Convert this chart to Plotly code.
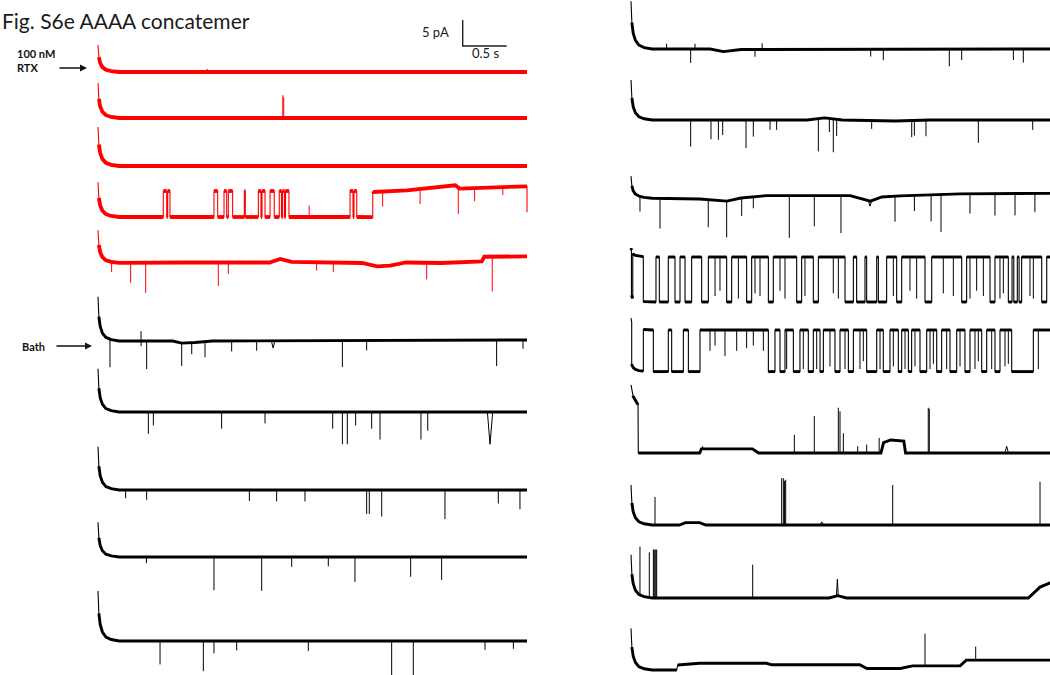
import numpy as np
import plotly.graph_objects as go

# ---------------- values ----------------
SCALE_TIME_S = 0.5          # horizontal scale bar
SCALE_CURRENT_PA = 5.0      # vertical scale bar
SWEEP_DURATION_S = 4.875

# capacitive transient at sweep onset: time (s) and fraction of peak
TRANSIENT_T = [0.0, 0.01, 0.025, 0.05, 0.09, 0.15, 0.24]
TRANSIENT_F = [1.0, 0.55, 0.33, 0.18, 0.08, 0.03, 0.0]

# ---- left column, 100 nM RTX (red) ----
L1_PEAK = 5.2
L1_DRIFT = [(0, 0), (4.875, 0)]
L1_SPIKES = [(1.24, 0.5, 0.03)]

L2_PEAK = 6.7
L2_DRIFT = [(0, 0), (4.875, 0)]
L2_SPIKES = [(2.10, 4.4), (2.11, 4.0)]

L3_PEAK = 7.5
L3_DRIFT = [(0, 0), (4.875, 0)]
L3_SPIKES = []

L4_PEAK = 6.7
L4_UNIT = 5.0
L4_DRIFT = [(0, 0), (3.12, 0), (3.13, -0.19), (3.51, 0.13), (3.89, 0.77), (4.06, 1.1),
            (4.11, 0.46), (4.46, 0.65), (4.875, 0.9)]
L4_OPEN = [(0.742, 0.781), (0.792, 0.818), (1.318, 1.360), (1.432, 1.462), (1.481, 1.530),
           (1.663, 1.674), (1.822, 1.852), (1.864, 1.898), (1.955, 2.003), (2.060, 2.085),
           (2.097, 2.119), (2.131, 2.170), (2.864, 2.898), (2.909, 2.940), (3.122, 4.875)]
L4_SPIKES = [(2.40, 2.2), (3.235, -2.9), (3.66, -2.9), (4.094, -5.1), (4.28, -2.5), (4.6, -1.5)]

L5_PEAK = 6.3
L5_DRIFT = [(0, 0), (1.0, 0.1), (1.95, 0.1), (2.07, 0.77), (2.2, 0.2), (3.0, 0.0), (3.17, -0.64),
            (3.32, -0.5), (3.5, 0.1), (3.9, 0.0), (4.36, 0.3), (4.39, 1.2), (4.875, 1.28)]
L5_SPIKES = [(0.155, -1.9), (0.371, -3.85), (0.542, -5.8), (1.367, -4.5), (1.481, -2.2),
             (2.485, -1.6), (2.674, -1.8), (3.735, -3.2), (4.48, -6.7)]

# ---- left column, bath (black) ----
L6_PEAK = 8.5
L6_DRIFT = [(0, 0), (0.85, 0), (0.95, -0.4), (1.1, -0.3), (1.3, 0), (4.875, 0.2)]
L6_SPIKES = [(0.136, -5.4), (0.489, 1.9), (0.49, -1.0), (0.553, -5.4), (0.951, -4.4),
             (1.065, -2.2), (1.216, -3.0), (1.519, -2.0), (1.803, -1.9), (1.99, -1.4, 0.02),
             (2.777, -5.1), (3.053, -1.9), (4.53, -5.0), (4.83, -1.7)]

L7_PEAK = 8.3
L7_DRIFT = [(0, 0), (4.875, 0)]
L7_SPIKES = [(0.572, -4.2), (0.629, -2.6), (1.405, -3.2), (1.898, -2.2), (2.667, -3.2),
             (2.777, -6.2), (2.833, -6.2), (2.928, -2.6), (3.11, -3.2), (3.205, -5.3),
             (3.67, -5.3), (3.747, -3.6), (4.455, -6.2, 0.03)]

L8_PEAK = 8.3
L8_DRIFT = [(0, 0), (4.875, 0)]
L8_SPIKES = [(0.314, -1.6), (0.553, -1.9), (1.72, -2.1), (2.03, -2.2), (2.352, -2.2),
             (3.053, -4.6), (3.083, -4.6), (3.224, -5.1), (3.943, -5.6), (4.549, -2.6),
             (4.795, -3.7)]

L9_PEAK = 6.7
L9_DRIFT = [(0, 0), (4.875, 0)]
L9_SPIKES = [(0.55, -1.2), (1.318, -6.4), (1.86, -6.5), (2.201, -1.9), (2.617, -1.8),
             (2.92, -4.8), (3.553, -3.8), (3.905, -4.4)]

L10_PEAK = 9.6
L10_DRIFT = [(0, 0), (4.875, 0)]
L10_SPIKES = [(0.705, -4.5), (1.197, -5.8), (1.318, -2.4), (1.576, -1.8), (2.39, -1.9),
              (3.337, -6.6), (3.583, -6.6), (4.398, -1.7), (4.72, -1.5)]

# ---- right column (black) ----
R1_PEAK = 9.2
R1_DRIFT = [(0, 0), (0.9, 0), (1.05, -0.5), (1.25, -0.1), (4.875, 0)]
R1_SPIKES = [(0.405, 1.0), (0.678, -2.7), (0.727, 1.0), (1.409, -1.4), (1.49, 1.2),
             (2.724, -1.4), (2.867, -2.1), (3.617, -3.3), (3.758, -2.1), (4.345, -2.1),
             (4.458, -2.6)]

R2_PEAK = 7.7
R2_DRIFT = [(0, 0), (2.0, 0), (2.2, 0.4), (2.4, 0), (3.0, -0.2), (3.4, 0), (4.875, 0)]
R2_SPIKES = [(0.678, -5.1), (0.909, -3.7), (0.993, -3.8), (1.042, -2.9), (1.307, -5.4),
             (1.39, -3.2), (1.58, -1.9), (1.655, -1.9), (2.129, -6.3), (2.254, -2.6),
             (2.299, -6.4), (2.337, -3.2), (2.735, -1.6), (3.19, -3.2), (3.22, -2.9),
             (3.352, -3.1), (3.947, -4.4), (4.565, -1.9)]

R3_PEAK = 4.2
R3_DRIFT = [(0, 0), (0.1, 0), (0.78, -0.2), (1.09, -0.6), (1.25, 0), (1.54, 0.45), (2.49, 0.45),
            (2.72, -0.6), (2.85, 0.2), (3.06, 0.4), (3.74, 0.8), (4.875, 0.9)]
R3_SPIKES = [(0.102, -2.9), (0.33, -5.8), (0.878, -5.3), (1.087, -7.0), (1.258, -3.5),
             (1.39, -2.2), (1.799, -8.1), (2.083, -5.9), (2.386, -7.2), (2.716, -1.0, 0.02),
             (3.0, -4.9), (3.22, -3.0), (3.41, -5.1), (3.523, -7.2), (3.852, -3.8),
             (4.136, -4.2), (4.364, -4.2), (4.59, -3.6)]

R4_PEAK = 1.7
R4_UNIT = -8.65
R4_DRIFT = [(0, 0), (4.875, 0)]
R4_OPEN = [(0.005, 0.02), (0.140, 0.284), (0.322, 0.424), (0.5, 0.557), (0.614, 0.689),
           (0.803, 0.879), (1.087, 1.144), (1.314, 1.371), (1.561, 1.617), (1.883, 1.939),
           (2.072, 2.129), (2.432, 2.527), (2.564, 2.659), (2.678, 2.792), (2.811, 2.905),
           (3.019, 3.076), (3.341, 3.417), (3.758, 3.814), (4.08, 4.136), (4.288, 4.33),
           (4.35, 4.39), (4.41, 4.439), (4.667, 4.724)]
R4_SPIKES = [(0.955, -7.5), (1.011, -6.5), (1.22, -8.0), (1.409, -7.0), (1.466, -7.5),
             (1.693, -6.5), (1.75, -8.0), (1.977, -7.5), (2.299, -7.0), (2.356, -8.0),
             (2.981, -7.5), (3.17, -6.5), (3.246, -8.0), (3.549, -7.0), (3.663, -7.5),
             (3.852, -8.0), (3.928, -6.5), (4.004, -7.5), (4.193, -8.0), (4.231, -7.0),
             (4.534, -7.5), (4.572, -8.0)]

R5_PEAK = 2.3
R5_UNIT = -8.0
R5_DRIFT = [(0, 0), (4.875, 0)]
R5_OPEN = [(0.008, 0.140), (0.254, 0.424), (0.462, 0.595), (0.652, 0.784), (1.561, 1.636),
           (1.693, 1.75), (1.845, 1.92), (2.015, 2.072), (2.148, 2.186), (2.318, 2.375),
           (2.47, 2.527), (2.678, 2.792), (2.867, 2.943), (3.038, 3.076), (3.152, 3.189),
           (3.284, 3.36), (3.474, 3.53), (3.625, 3.701), (3.795, 3.852), (3.985, 4.042),
           (4.136, 4.193), (4.326, 4.572)]
R5_SPIKES = [(0.898, -4.0), (0.955, -3.0), (1.068, -5.0), (1.201, -4.0), (1.314, -3.5),
             (1.39, -3.0), (1.504, -4.0), (1.769, -7.5), (1.958, -7.5), (2.11, -7.5),
             (2.261, -7.0), (2.432, -7.5), (2.602, -7.5), (2.640, -6.0), (2.830, -7.5),
             (2.981, -7.0), (3.114, -7.5), (3.227, -7.0), (3.398, -7.5), (3.436, -6.5),
             (3.587, -7.5), (3.739, -7.0), (3.909, -7.5), (3.947, -6.0), (4.099, -7.5),
             (4.25, -7.0), (4.288, -6.5), (4.629, -7.5)]

R6_PEAK = 0.0
R6_DRIFT = [(0, 13.1), (0.02, 11.0), (0.065, 9.6), (0.08, 9.3), (0.083, 0), (0.78, 0),
            (0.8, 0.8), (1.38, 0.8), (1.45, 0), (2.84, 0), (2.87, 2.0), (2.95, 2.5),
            (3.1, 2.3), (3.12, 0), (4.875, 0)]
R6_SPIKES = [(0.814, 0.5), (1.856, 3.5), (2.083, 7.1), (2.356, 8.7), (2.375, 8.0),
             (2.413, 3.8), (2.576, 1.3), (2.678, 1.6), (2.82, 2.9), (3.378, 8.7),
             (3.39, 8.5), (4.269, 1.3, 0.02)]

R7_PEAK = 7.7
R7_DRIFT = [(0, 0), (0.55, 0), (0.62, 0.45), (0.78, 0.45), (0.85, 0), (4.875, 0)]
R7_SPIKES = [(0.273, 5.4), (1.712, 9.0), (1.731, 9.0), (1.745, 8.5), (1.758, 8.7),
             (2.167, 0.6, 0.02), (2.974, 7.7), (4.648, 8.3)]

R8_PEAK = 8.3
R8_DRIFT = [(0, 0), (2.25, 0), (2.35, 0.45), (2.45, 0), (4.515, 0), (4.648, 2.1),
            (4.76, 2.9), (4.875, 3.2)]
R8_SPIKES = [(0.102, 9.3), (0.208, 8.7), (0.254, 9.3), (0.263, 9.3), (0.273, 9.3),
             (0.283, 9.3), (0.292, 9.3), (1.383, 6.4), (2.345, 3.2, 0.01)]

R9_PEAK = 8.0
R9_DRIFT = [(0, 0), (0.52, 0), (0.53, 0.96), (0.78, 1.3), (1.54, 1.3), (1.6, 1.0), (2.6, 1.0),
            (2.68, 0.3), (3.06, 0.3), (3.2, 0.8), (3.74, 0.8), (3.81, 1.9), (4.875, 1.9)]
R9_SPIKES = [(3.341, 6.2), (3.917, 2.6)]

TITLE = "Fig. S6e AAAA concatemer"
LABEL_RTX = "100 nM<br>RTX"
LABEL_BATH = "Bath"

# ---------------- layout (positions / styles) ----------------
W, H = 1050, 675
PX_PER_S = 88.0
PX_PER_PA = 5.2
COL_START_PX = [98, 631]
LEFT_ROW_PX = [72, 118, 166, 217, 263, 341, 412, 490, 557, 641]
RIGHT_ROW_PX = [49, 120, 198, 257, 330, 453, 525, 598, 670]
RED = "#ff0000"
BLACK = "#000000"

SWEEPS = [
    (0, LEFT_ROW_PX[0], RED, L1_PEAK, L1_DRIFT, [], 0.0, L1_SPIKES),
    (0, LEFT_ROW_PX[1], RED, L2_PEAK, L2_DRIFT, [], 0.0, L2_SPIKES),
    (0, LEFT_ROW_PX[2], RED, L3_PEAK, L3_DRIFT, [], 0.0, L3_SPIKES),
    (0, LEFT_ROW_PX[3], RED, L4_PEAK, L4_DRIFT, L4_OPEN, L4_UNIT, L4_SPIKES),
    (0, LEFT_ROW_PX[4], RED, L5_PEAK, L5_DRIFT, [], 0.0, L5_SPIKES),
    (0, LEFT_ROW_PX[5], BLACK, L6_PEAK, L6_DRIFT, [], 0.0, L6_SPIKES),
    (0, LEFT_ROW_PX[6], BLACK, L7_PEAK, L7_DRIFT, [], 0.0, L7_SPIKES),
    (0, LEFT_ROW_PX[7], BLACK, L8_PEAK, L8_DRIFT, [], 0.0, L8_SPIKES),
    (0, LEFT_ROW_PX[8], BLACK, L9_PEAK, L9_DRIFT, [], 0.0, L9_SPIKES),
    (0, LEFT_ROW_PX[9], BLACK, L10_PEAK, L10_DRIFT, [], 0.0, L10_SPIKES),
    (1, RIGHT_ROW_PX[0], BLACK, R1_PEAK, R1_DRIFT, [], 0.0, R1_SPIKES),
    (1, RIGHT_ROW_PX[1], BLACK, R2_PEAK, R2_DRIFT, [], 0.0, R2_SPIKES),
    (1, RIGHT_ROW_PX[2], BLACK, R3_PEAK, R3_DRIFT, [], 0.0, R3_SPIKES),
    (1, RIGHT_ROW_PX[3], BLACK, R4_PEAK, R4_DRIFT, R4_OPEN, R4_UNIT, R4_SPIKES),
    (1, RIGHT_ROW_PX[4], BLACK, R5_PEAK, R5_DRIFT, R5_OPEN, R5_UNIT, R5_SPIKES),
    (1, RIGHT_ROW_PX[5], BLACK, R6_PEAK, R6_DRIFT, [], 0.0, R6_SPIKES),
    (1, RIGHT_ROW_PX[6], BLACK, R7_PEAK, R7_DRIFT, [], 0.0, R7_SPIKES),
    (1, RIGHT_ROW_PX[7], BLACK, R8_PEAK, R8_DRIFT, [], 0.0, R8_SPIKES),
    (1, RIGHT_ROW_PX[8], BLACK, R9_PEAK, R9_DRIFT, [], 0.0, R9_SPIKES),
]


def build_sweep(peak, drift, opens, unit, spikes):
    dt = [p[0] for p in drift]
    di = [p[1] for p in drift]
    edges = sorted({e for iv in opens for e in iv})

    def lvl(t):
        return unit if any(a <= t < b for a, b in opens) else 0.0

    def base(t):
        return (float(np.interp(t, dt, di))
                + peak * float(np.interp(t, TRANSIENT_T, TRANSIENT_F)))

    ts = sorted(set(dt) | set(TRANSIENT_T) | {0.0, SWEEP_DURATION_S} | set(edges))
    ts = [t for t in ts if 0 <= t <= SWEEP_DURATION_S]
    px, py = [], []
    for t in ts:
        if t in edges:
            px += [t, t]
            py += [base(t) + lvl(t - 1e-9), base(t) + lvl(t + 1e-9)]
        else:
            px.append(t)
            py.append(base(t) + lvl(t))
    # thick "noise band": break where the path is (nearly) vertical
    kx, ky = [px[0]], [py[0]]
    for i in range(1, len(px)):
        dxp = (px[i] - px[i - 1]) * PX_PER_S
        dyp = abs(py[i] - py[i - 1]) * PX_PER_PA
        if dxp < 1.0 and dyp > 4.0:
            kx.append(None)
            ky.append(None)
        kx.append(px[i])
        ky.append(py[i])
    sx, sy = [], []
    for s in spikes:
        t, a = s[0], s[1]
        w = s[2] if len(s) > 2 else 0.0
        b = base(t) + lvl(t)
        if w > 0:
            sx += [t - w, t, t + w, None]
            sy += [base(t - w) + lvl(t - w), b + a, base(t + w) + lvl(t + w), None]
        else:
            sx += [t, t, None]
            sy += [b, b + a, None]
    return (px, py), (kx, ky), (sx, sy)


def shift(xs, ys, x0, y0):
    return ([None if x is None else x + x0 for x in xs],
            [None if y is None else y + y0 for y in ys])


fig = go.Figure()
for col, row_px, color, peak, drift, opens, unit, spikes in SWEEPS:
    x0 = (COL_START_PX[col] - COL_START_PX[0]) / PX_PER_S
    y0 = -row_px / PX_PER_PA
    (px, py), (kx, ky), (sx, sy) = build_sweep(peak, drift, opens, unit, spikes)
    thick = 3.8 if color == RED else 2.9
    for (xs, ys), wdt in (((px, py), 1.1), ((kx, ky), thick), ((sx, sy), 1.0)):
        X, Y = shift(xs, ys, x0, y0)
        fig.add_trace(go.Scatter(x=X, y=Y, mode="lines", hoverinfo="skip",
                                 line=dict(color=color, width=wdt),
                                 showlegend=False, connectgaps=False))

# scale bar built from its values
sb_t = (462.7 - COL_START_PX[0]) / PX_PER_S
sb_y = -46.0 / PX_PER_PA
fig.add_trace(go.Scatter(
    x=[sb_t, sb_t, sb_t + SCALE_TIME_S],
    y=[sb_y + SCALE_CURRENT_PA, sb_y, sb_y],
    mode="lines", hoverinfo="skip", showlegend=False,
    line=dict(color="#222222", width=1.4)))


def P(x, y):
    return x / W, 1 - y / H


annotations = []
tx, ty = P(0, 21)
annotations.append(dict(x=tx, y=ty, xref="paper", yref="paper", text=TITLE, showarrow=False,
                        xanchor="left", yanchor="middle",
                        font=dict(family="Lato", size=21, color="#1a1a1a")))
for txt, (cx, cy) in ((f"{SCALE_CURRENT_PA:g} pA", (435, 32)), (f"{SCALE_TIME_S:g} s", (485, 53))):
    ax_, ay_ = P(cx, cy)
    annotations.append(dict(x=ax_, y=ay_, xref="paper", yref="paper", text=txt, showarrow=False,
                            xanchor="center", yanchor="middle",
                            font=dict(family="Lato", size=13, color="#1a1a1a")))
lx, ly = P(15, 60)
annotations.append(dict(x=lx, y=ly, xref="paper", yref="paper", text="<b>" + LABEL_RTX + "</b>",
                        showarrow=False, xanchor="left", yanchor="middle", align="left",
                        font=dict(family="Lato", size=11, color="#111111")))
bx, by = P(20, 346)
annotations.append(dict(x=bx, y=by, xref="paper", yref="paper", text="<b>" + LABEL_BATH + "</b>",
                        showarrow=False, xanchor="left", yanchor="middle",
                        font=dict(family="Lato", size=11, color="#111111")))
for (hx, hy), length in ((P(87, 68), 29), (P(92, 346), 37)):
    annotations.append(dict(x=hx, y=hy, xref="paper", yref="paper", text="", showarrow=True,
                            ax=-length, ay=0, arrowhead=2, arrowsize=1.0, arrowwidth=1.4,
                            arrowcolor="#111111", standoff=0, startstandoff=0))

fig.update_layout(
    width=W, height=H, margin=dict(l=0, r=0, t=0, b=0),
    paper_bgcolor="white", plot_bgcolor="white",
    xaxis=dict(visible=False, range=[-COL_START_PX[0] / PX_PER_S, (W - COL_START_PX[0]) / PX_PER_S]),
    yaxis=dict(visible=False, range=[-H / PX_PER_PA, 0]),
    annotations=annotations,
)
fig.write_html(
    "out.html",
    config={"displayModeBar": False, "staticPlot": True},
    post_script="document.body.style.margin='0';document.body.style.padding='0';",
)
